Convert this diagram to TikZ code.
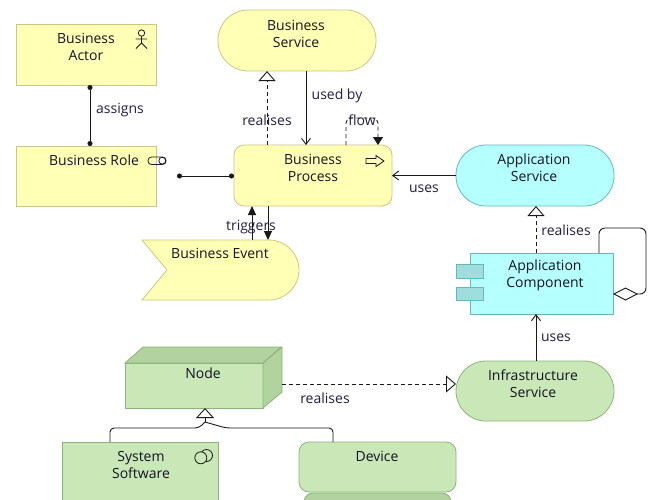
\documentclass[tikz,border=0pt]{standalone}
\usepackage{fontspec}
\setmainfont{Open Sans}
\usetikzlibrary{arrows.meta,calc}
\definecolor{bizfill}{RGB}{255,255,181}
\definecolor{bizline}{RGB}{200,200,130}
\definecolor{appfill}{RGB}{181,255,255}
\definecolor{appline}{RGB}{100,185,185}
\definecolor{appdark}{RGB}{160,222,222}
\definecolor{techfill}{RGB}{201,231,183}
\definecolor{techline}{RGB}{140,180,120}
\definecolor{techdark}{RGB}{178,210,160}
\definecolor{txtc}{RGB}{20,20,35}
\definecolor{lblc}{RGB}{35,30,70}
\definecolor{linec}{RGB}{25,25,25}
\begin{document}
\begin{tikzpicture}[x=1pt,y=-1pt,
  every node/.style={font=\fontsize{14}{17}\selectfont},
  box/.style 2 args={minimum width=#1pt,minimum height=#2pt},
  biz/.style={draw=bizline,fill=bizfill,line width=0.8pt,inner sep=0pt,outer sep=0pt},
  app/.style={draw=appline,fill=appfill,line width=0.8pt,inner sep=0pt,outer sep=0pt},
  tech/.style={draw=techline,fill=techfill,line width=0.8pt,inner sep=0pt,outer sep=0pt},
  pill/.style={rounded corners=30pt},
  rrect/.style={rounded corners=10pt},
  txt/.style={text=txtc,align=center,inner sep=0pt},
  lbl/.style={text=lblc,inner sep=0pt},
  conn/.style={line width=0.9pt,draw=linec},
  realline/.style={conn,dash pattern=on 4pt off 3pt,-{Triangle[open,length=10pt,width=17pt]}},
  flowline/.style={conn,dash pattern=on 4pt off 3pt,-{Triangle[length=8pt,width=10pt]}},
  useline/.style={conn,-{Straight Barb[length=6pt,width=9pt]}},
  trigline/.style={conn,-{Triangle[length=9pt,width=8pt]}},
  assignline/.style={conn,{Circle[length=5pt]}-{Circle[length=5pt]}},
  specline/.style={conn,-{Triangle[open,length=10pt,width=18pt]}},
  icon/.style={draw=linec,line width=0.8pt}
]
\useasboundingbox (0,0) rectangle (651,499);
\clip (0,0) rectangle (651,499);
\fill[white] (0,0) rectangle (651,499);

% ---------- Business layer ----------
\node[biz,box={140}{61}] (actor) at (86,54.5) {};
\node[biz,box={140}{60}] (role) at (86,176) {};
\node[biz,pill,box={158}{61}] (bserv) at (297,40.5) {};
\node[biz,rrect,box={158}{61}] (proc) at (313,175.5) {};
\node[inner sep=0pt,outer sep=0pt,box={157}{60}] (event) at (220.5,270) {};
\draw[biz] (142,240) -- (269,240) .. controls (285.57,240) and (299,253.43) .. (299,270)
  .. controls (299,286.57) and (285.57,300) .. (269,300) -- (142,300) -- (167,270) -- cycle;

% ---------- Application layer ----------
\node[app,pill,box={158}{61}] (aserv) at (535,175.5) {};
\node[app,box={143}{61}] (acomp) at (541.5,283.5) {};
\draw[app,fill=appdark] (456,264) rectangle (483,278);
\draw[app,fill=appdark] (456,287) rectangle (483,300);

% ---------- Technology layer ----------
\node[tech,pill,box={158}{60}] (iserv) at (535,391) {};
\node[tech,box={138}{45}] (tnode) at (194,385.5) {};
\draw[tech,fill=techdark] (tnode.north west) -- ++(18,-16) -- ++(138,0) -- (tnode.north east) -- cycle;
\draw[tech,fill=techdark] (tnode.north east) -- ++(19,-16) -- ++(0,45) -- (tnode.south east) -- cycle;
\node[tech,box={156}{80}] (sw) at (140,482) {};
\draw[tech,fill=techdark,rounded corners=9pt] (304,493) rectangle (451,530);
\node[tech,rrect,box={157}{50}] (dev) at (377.5,467) {};

% ---------- icons ----------
\draw[icon] (141.5,33) circle (3.2pt);
\draw[icon] (141.5,36.2) -- (141.5,43) (135.5,39) -- (147,39) (136,48.5) -- (141.5,43) -- (147,48.5);
\draw[icon,rounded corners=3.5pt] (148,157) rectangle (166,164.5);
\draw[icon] (162.3,160.7) circle (3.5pt);
\draw[icon] (366,158.5) -- (376,158.5) -- (376,155.5) -- (384,161) -- (376,166.5) -- (376,163.5) -- (366,163.5) -- cycle;
\draw[icon,fill=techfill] (206.5,455.5) circle (6pt);
\draw[icon,fill=techfill] (200.8,457.8) circle (6pt);

% ---------- connectors ----------
\draw[assignline] (90,0 |- actor.south) -- (90,0 |- role.north);
\coordinate (rolehook) at (177,176);
\draw[assignline] (rolehook) -- (proc.west |- rolehook);
\draw[realline] (267,0 |- proc.north) -- (267,0 |- bserv.south);
\draw[useline] (306,0 |- bserv.south) -- (306,0 |- proc.north);
\draw[flowline,rounded corners=5pt] (346,0 |- proc.north) -- (346,118) -- (378,118) -- (378,0 |- proc.north);
\draw[useline] (aserv.west) -- (proc.east);
\draw[trigline] (252,0 |- event.north) -- (252,0 |- proc.south);
\draw[trigline] (268,0 |- proc.south) -- (268,0 |- event.north);
\draw[realline] (536,0 |- acomp.north) -- (536,0 |- aserv.south);
\draw[conn,rounded corners=6pt,{Diamond[open,length=25pt,width=13pt]}-] (acomp.east |- 0,294) -- (646,294) -- (646,228) -- (599,228) -- (599,0 |- acomp.north);
\draw[useline] (536,0 |- iserv.north) -- (536,0 |- acomp.south);
\coordinate (nodeR) at ($(tnode.north east)+(19,21)$);
\draw[realline] (nodeR) -- (iserv.west |- nodeR);
\coordinate (gj) at (205,422);
\draw[specline] (gj) -- (tnode.south -| gj);
\draw[conn,rounded corners=4pt] (sw.north -| 110,0) -- (110,428) -- (199,428) -- (gj);
\draw[conn,rounded corners=4pt] (dev.north -| 333,0) -- (333,428) -- (226,428) -- (gj);

% ---------- element texts ----------
\node[txt] (actorT) at (86,46.5) {Business\\Actor};
\node[txt] (roleT) at (94,160) {Business Role};
\node[txt] (bservT) at (296,33.5) {Business\\Service};
\node[txt] (procT) at (313,168) {Business\\Process};
\node[txt] (eventT) at (220,253.5) {Business Event};
\node[txt] (aservT) at (534,168) {Application\\Service};
\node[txt] (acompT) at (545,275.5) {Application\\Component};
\node[txt] (iservT) at (533,383.5) {Infrastructure\\Service};
\node[txt] (tnodeT) at (203,373.5) {Node};
\node[txt] (swT) at (141,464.5) {System\\Software};
\node[txt] (devT) at (377,456) {Device};

% ---------- connector labels ----------
\node[lbl] (l1) at (120,110) {assigns};
\node[lbl] (l2) at (267,120) {realises};
\node[lbl] (l3) at (337,96) {used by};
\node[lbl] (l4) at (362,120) {flow};
\node[lbl] (l5) at (424,189) {uses};
\node[lbl] (l6) at (251,227) {triggers};
\node[lbl] (l7) at (566,230) {realises};
\node[lbl] (l8) at (556,338) {uses};
\node[lbl] (l9) at (325,398) {realises};
\end{tikzpicture}
\end{document}
